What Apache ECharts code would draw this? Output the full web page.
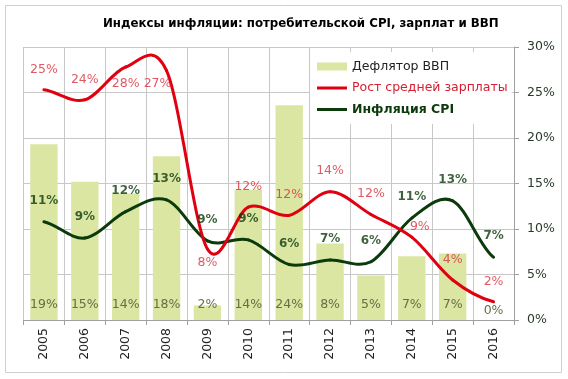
<!DOCTYPE html>
<html>
<head>
<meta charset="utf-8">
<script src="https://cdn.jsdelivr.net/npm/echarts@6/dist/echarts.min.js"></script>
<style>html,body{margin:0;padding:0;background:#fff}#c{width:568px;height:379px}</style>
</head>
<body>
<div id="c"></div>
<script>
const years = ['2005','2006','2007','2008','2009','2010','2011','2012','2013','2014','2015','2016'];
const deflator = [19.3, 15.2, 13.9, 18.0, 1.6, 14.3, 23.6, 8.4, 4.9, 7.0, 7.3, 0];
const wages = [25.3, 24.2, 27.8, 27.4, 7.8, 12.4, 11.5, 14.1, 11.6, 9.1, 4.4, 2.0];
const cpi = [10.8, 9.0, 11.9, 13.2, 8.7, 8.8, 6.1, 6.6, 6.4, 11.2, 13.1, 6.9];
const yTicks = [0, 5, 10, 15, 20, 25, 30];

const FONT = 'DejaVu Sans';
const RED = '#e00010';
const GREEN = '#0b3a0b';
const pct = v => Math.round(Array.isArray(v) ? v[1] : v) + '%';

// Smooth (Catmull-Rom style) curve segment between point i and i+1, through the axes
function curveRenderer(vals, color) {
  return function (params, api) {
    const i = params.dataIndex, n = vals.length;
    if (i >= n - 1) return null;
    const tan = k => (vals[Math.min(k + 1, n - 1)] - vals[Math.max(k - 1, 0)]) / 2;
    const p0 = api.coord([i, vals[i]]);
    const p1 = api.coord([i + 1, vals[i + 1]]);
    const c1y = api.coord([i, vals[i] + tan(i) / 3])[1];
    const c2y = api.coord([i + 1, vals[i + 1] - tan(i + 1) / 3])[1];
    const dx = (p1[0] - p0[0]) / 3;
    return {
      type: 'bezierCurve',
      shape: { x1: p0[0], y1: p0[1], x2: p1[0], y2: p1[1],
               cpx1: p0[0] + dx, cpy1: c1y, cpx2: p1[0] - dx, cpy2: c2y },
      style: { fill: null, stroke: color, lineWidth: 3, lineCap: 'round' }
    };
  };
}

const barData = deflator.map((v, i) => i === deflator.length - 1
  ? { value: v, label: { distance: 3 } } : v);

const wageLabelCfg = {
  2: { position: 'bottom', distance: 9 },
  3: { position: 'bottom', distance: 6, offset: [-9, 0] },
  4: { position: 'bottom', distance: 6 },
  9: { position: 'top', distance: 3, offset: [8, 0] }
};
const wageLabelData = wages.map((v, i) => wageLabelCfg[i]
  ? { value: [i, v], label: wageLabelCfg[i] } : [i, v]);
const cpiLabelData = cpi.map((v, i) => [i, v]);

const legendLine = 'path://M0,0H30V0.02H0Z M0,2.5H30V5.5H0Z M0,7.98H30V8H0Z';

const chart = echarts.init(document.getElementById('c'), null, { renderer: 'canvas' });
chart.setOption({
  animation: false,
  backgroundColor: '#fff',
  title: {
    text: 'Индексы инфляции: потребительской CPI, зарплат и ВВП',
    left: 103, top: 18, padding: 0,
    textStyle: { fontFamily: FONT, fontSize: 11.8, fontWeight: 'bold', color: '#000' }
  },
  graphic: [{
    type: 'rect', shape: { x: 5.5, y: 5.5, width: 556, height: 367 },
    style: { fill: 'none', stroke: '#d0d0d0', lineWidth: 1 }, z: -1
  }],
  legend: {
    orient: 'vertical', left: 310, top: 52,
    padding: [8, 4, 8, 7], itemGap: 8.5, itemWidth: 30, itemHeight: 8,
    backgroundColor: '#fff',
    textStyle: { fontFamily: FONT, fontSize: 12.5 },
    data: [
      { name: 'Дефлятор ВВП', icon: 'rect', textStyle: { color: '#222' } },
      { name: 'Рост средней зарплаты', icon: legendLine, textStyle: { color: '#d42030' } },
      { name: 'Инфляция CPI', icon: legendLine, textStyle: { color: GREEN, fontWeight: 'bold' } }
    ]
  },
  grid: { left: 23.5, right: 54, top: 47, bottom: 59 },
  xAxis: {
    type: 'category', data: years, boundaryGap: true,
    axisLine: { lineStyle: { color: '#a0a0a0' } },
    axisTick: { show: true, length: 5, lineStyle: { color: '#a0a0a0' } },
    splitLine: { show: true, lineStyle: { color: '#c8c8c8' } },
    axisLabel: { rotate: 90, margin: 8, fontFamily: FONT, fontSize: 12.5, color: '#222' }
  },
  yAxis: {
    type: 'value', position: 'right', min: yTicks[0], max: yTicks[yTicks.length - 1], interval: 5,
    axisLine: { show: true, lineStyle: { color: '#a0a0a0' } },
    axisTick: { show: true, length: 5, lineStyle: { color: '#a0a0a0' } },
    splitLine: { show: true, lineStyle: { color: '#c8c8c8' } },
    axisLabel: { margin: 13, formatter: '{value}%', fontFamily: FONT, fontSize: 12.5, color: '#2a3a2a' }
  },
  series: [
    {
      name: 'Дефлятор ВВП', type: 'bar', data: barData, barCategoryGap: '33%',
      itemStyle: { color: '#dbe6a3' },
      label: { show: true, position: 'insideBottom', distance: 9, formatter: p => pct(p.value),
        fontFamily: FONT, fontSize: 12.5, color: '#6b6b45' },
      z: 2
    },
    {
      name: 'Рост средней зарплаты', type: 'custom', data: wages.map((v, i) => [i, v]),
      renderItem: curveRenderer(wages, RED), itemStyle: { color: RED }, silent: true, z: 4
    },
    {
      name: 'Инфляция CPI', type: 'custom', data: cpi.map((v, i) => [i, v]),
      renderItem: curveRenderer(cpi, GREEN), itemStyle: { color: GREEN }, silent: true, z: 3
    },
    {
      name: 'wage-labels', type: 'scatter', data: wageLabelData, symbolSize: 2,
      itemStyle: { color: 'rgba(0,0,0,0)' }, silent: true, z: 6,
      label: { show: true, position: 'top', distance: 13, formatter: p => pct(p.value),
        fontFamily: FONT, fontSize: 12.5, color: '#d8303c' }
    },
    {
      name: 'cpi-labels', type: 'scatter', data: cpiLabelData, symbolSize: 2,
      itemStyle: { color: 'rgba(0,0,0,0)' }, silent: true, z: 6,
      label: { show: true, position: 'top', distance: 14, formatter: p => pct(p.value),
        fontFamily: FONT, fontSize: 12, fontWeight: 'bold', color: GREEN }
    }
  ]
});
</script>
</body>
</html>
